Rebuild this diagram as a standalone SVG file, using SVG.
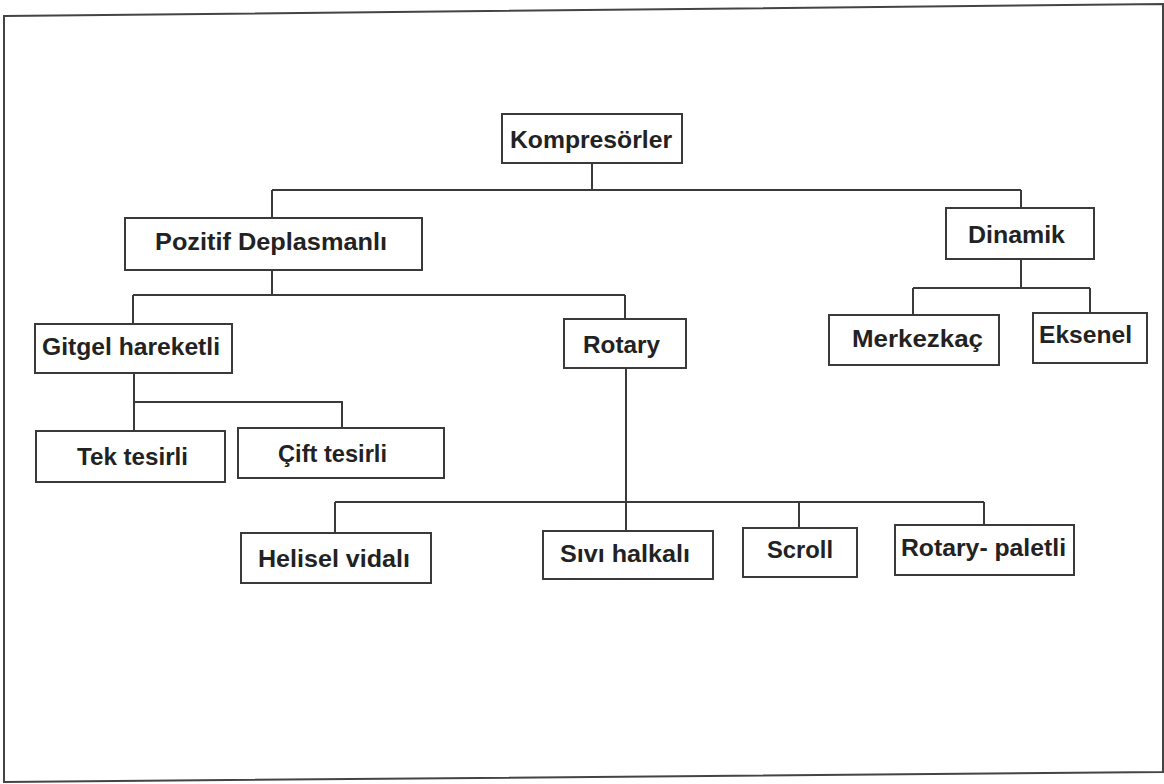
<svg xmlns="http://www.w3.org/2000/svg" width="1164" height="784" viewBox="0 0 1164 784">
<style>
.box{fill:#fff;stroke:#3a3a3a;stroke-width:2}
.lbl{font-family:"Liberation Sans",Arial,sans-serif;font-weight:bold;font-size:24px;fill:#222}
.con{fill:none;stroke:#3a3a3a;stroke-width:2}
.frame{fill:none;stroke:#444;stroke-width:2}
</style>
<rect width="1164" height="784" fill="#fff"/>
<polygon class="frame" points="4,16 1163,4 1163,772 4,782"/>
<g id="connectors">
<path class="con" d="M592,163 V190 M272,190 H1021 M272,190 V218 M1021,190 V208"/>
<path class="con" d="M272,270 V295 M133,295 H625 M133,295 V324 M625,295 V319"/>
<path class="con" d="M1021,259 V288 M913,288 H1090 M913,288 V315 M1090,288 V313"/>
<path class="con" d="M134,373 V431 M134,402 H342 V428"/>
<path class="con" d="M626,368 V531 M335,502 H984 M335,502 V533 M799,502 V528 M984,502 V525"/>
</g>
<g id="n-kompresorler"><rect class="box" x="502" y="114" width="180" height="49"/><text class="lbl" x="510" y="148" textLength="162" lengthAdjust="spacingAndGlyphs">Kompresörler</text></g>
<g id="n-pozitif"><rect class="box" x="125" y="218" width="297" height="52"/><text class="lbl" x="155" y="250" textLength="232" lengthAdjust="spacingAndGlyphs">Pozitif Deplasmanlı</text></g>
<g id="n-dinamik"><rect class="box" x="946" y="208" width="148" height="51"/><text class="lbl" x="968" y="243" textLength="97" lengthAdjust="spacingAndGlyphs">Dinamik</text></g>
<g id="n-gitgel"><rect class="box" x="35" y="324" width="197" height="49"/><text class="lbl" x="42" y="355" textLength="178" lengthAdjust="spacingAndGlyphs">Gitgel hareketli</text></g>
<g id="n-rotary"><rect class="box" x="564" y="319" width="122" height="49"/><text class="lbl" x="583" y="353" textLength="77" lengthAdjust="spacingAndGlyphs">Rotary</text></g>
<g id="n-merkezkac"><rect class="box" x="829" y="315" width="170" height="50"/><text class="lbl" x="852" y="347" textLength="131" lengthAdjust="spacingAndGlyphs">Merkezkaç</text></g>
<g id="n-eksenel"><rect class="box" x="1033" y="313" width="114" height="50"/><text class="lbl" x="1039" y="343" textLength="93" lengthAdjust="spacingAndGlyphs">Eksenel</text></g>
<g id="n-tek"><rect class="box" x="36" y="431" width="189" height="51"/><text class="lbl" x="77" y="465" textLength="111" lengthAdjust="spacingAndGlyphs">Tek tesirli</text></g>
<g id="n-cift"><rect class="box" x="238" y="428" width="206" height="50"/><text class="lbl" x="278" y="462" textLength="109" lengthAdjust="spacingAndGlyphs">Çift tesirli</text></g>
<g id="n-helisel"><rect class="box" x="241" y="533" width="190" height="50"/><text class="lbl" x="258" y="567" textLength="152" lengthAdjust="spacingAndGlyphs">Helisel vidalı</text></g>
<g id="n-sivi"><rect class="box" x="543" y="531" width="170" height="48"/><text class="lbl" x="560" y="562" textLength="130" lengthAdjust="spacingAndGlyphs">Sıvı halkalı</text></g>
<g id="n-scroll"><rect class="box" x="743" y="528" width="114" height="49"/><text class="lbl" x="767" y="558" textLength="66" lengthAdjust="spacingAndGlyphs">Scroll</text></g>
<g id="n-paletli"><rect class="box" x="895" y="525" width="179" height="50"/><text class="lbl" x="901" y="556" textLength="165" lengthAdjust="spacingAndGlyphs">Rotary- paletli</text></g>
</svg>
